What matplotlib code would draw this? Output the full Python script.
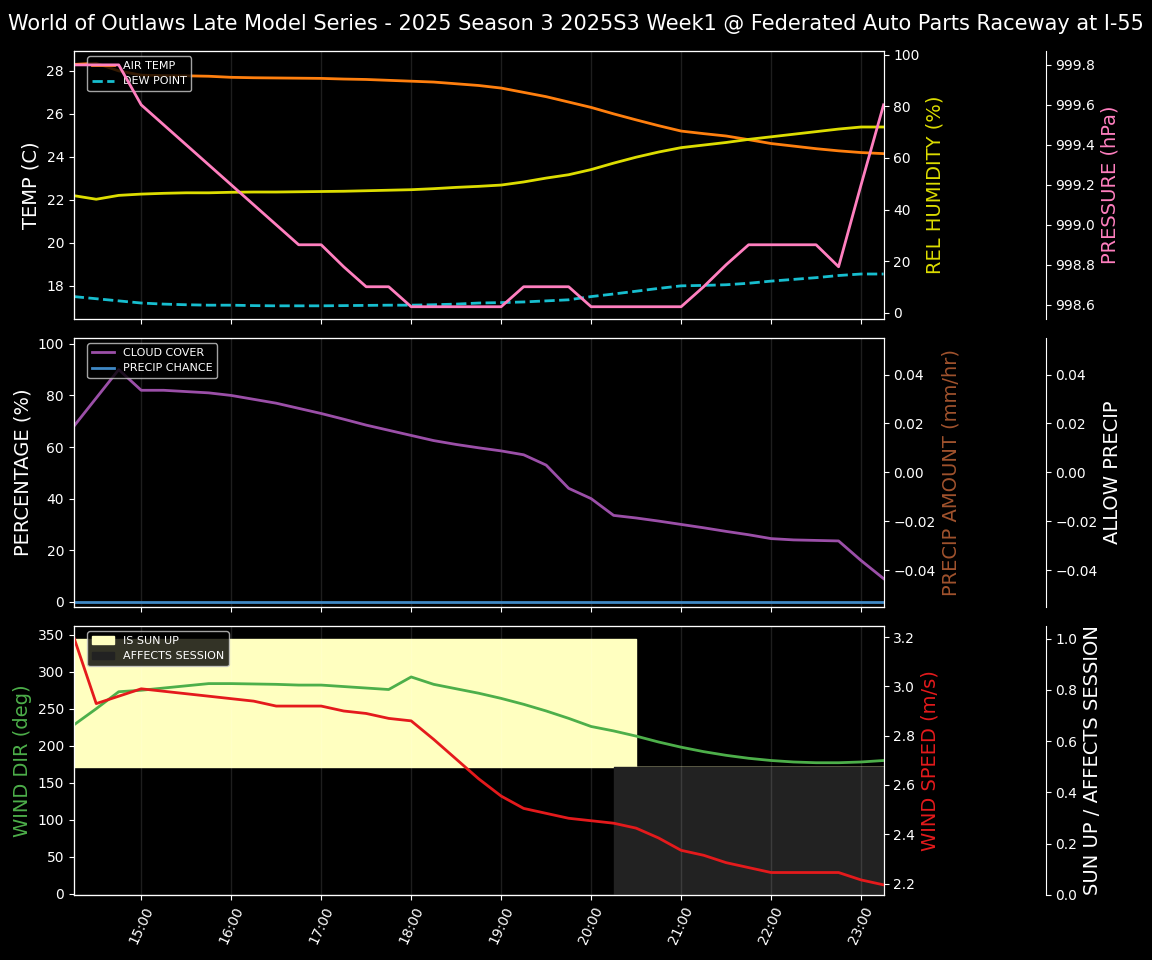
import matplotlib
matplotlib.use("Agg")
import matplotlib.pyplot as plt
import matplotlib.dates as mdates
import numpy as np
import pandas as pd

times = pd.date_range("2025-01-01 14:15", "2025-01-01 23:15", freq="15min")
air_temp = [28.3,28.35,28.0,27.8,27.78,27.77,27.75,27.7,27.68,27.67,27.66,27.65,27.62,27.6,27.56,27.52,27.48,27.4,27.32,27.2,27.0,26.8,26.55,26.3,26.0,25.72,25.45,25.2,25.08,24.97,24.8,24.62,24.5,24.38,24.28,24.2,24.15]
dew_point = [17.5,17.4,17.3,17.2,17.15,17.12,17.1,17.1,17.08,17.07,17.07,17.07,17.08,17.09,17.1,17.1,17.12,17.15,17.2,17.22,17.25,17.3,17.35,17.5,17.62,17.75,17.88,18.0,18.02,18.05,18.12,18.22,18.3,18.38,18.48,18.55,18.55]
humidity = [45.4,44,45.5,46,46.3,46.5,46.5,46.7,46.8,46.8,46.9,47,47.1,47.3,47.5,47.7,48.1,48.6,49,49.5,50.7,52.2,53.5,55.5,58,60.3,62.3,64,65,66,67.2,68.2,69.2,70.2,71.2,72,72]
pressure = [999.8,999.8,999.8,999.6,999.5,999.4,999.3,999.2,999.1,999.0,998.9,998.9,998.79,998.69,998.69,998.59,998.59,998.59,998.59,998.59,998.69,998.69,998.69,998.59,998.59,998.59,998.59,998.59,998.69,998.8,998.9,998.9,998.9,998.9,998.79,999.2,999.6]
cloud = [68,79,90,82,82,81.5,81,80,78.5,77,75,73,70.8,68.5,66.5,64.5,62.5,61,59.7,58.5,57,53,44,40,33.5,32.5,31.3,30,28.7,27.3,26,24.5,24,23.8,23.6,16,9]
precip_chance = [0]*37
precip_amount = [0]*37
wind_dir = [228,250,273,275,278,281,284,284,283.5,283,282,282,280,278,276,293,283,277,271,264,256,247,237,226,220,213,205,198,192,187,183,180,178,177,177,178,180]
wind_speed = [3.2,2.93,2.96,2.99,2.98,2.97,2.96,2.95,2.94,2.92,2.92,2.92,2.9,2.89,2.87,2.86,2.785,2.705,2.625,2.555,2.505,2.485,2.465,2.455,2.445,2.425,2.385,2.335,2.315,2.285,2.265,2.245,2.245,2.245,2.245,2.215,2.195]
sun_up = [1]*25 + [0]*12
affects = [0]*24 + [1]*13

plt.style.use("dark_background")
fig = plt.figure(figsize=(11.52, 9.6), dpi=100)
L, W = 0.064, 0.703
axs = [fig.add_axes([L, 0.668, W, 0.279]), fig.add_axes([L, 0.368, W, 0.280]), fig.add_axes([L, 0.068, W, 0.280])]
fig.suptitle("World of Outlaws Late Model Series - 2025 Season 3 2025S3 Week1 @ Federated Auto Parts Raceway at I-55", fontsize=15, y=0.985)

def third(ax):
    a = ax.twinx()
    a.spines["right"].set_position(("axes", 1.2))
    return a

for ax in axs:
    ax.set_xlim(times[0], times[-1])
    ax.xaxis.set_major_locator(mdates.HourLocator())
    ax.xaxis.set_major_formatter(mdates.DateFormatter("%H:%M"))
    ax.grid(axis="x", color="white", alpha=0.12, linewidth=1.0)
for ax in axs[:2]:
    ax.tick_params(labelbottom=False)
plt.setp(axs[2].get_xticklabels(), rotation=65)

ax = axs[0]
ax.plot(times, air_temp, color="#ff7f0e", lw=2, label="AIR TEMP")
ax.plot(times, dew_point, color="#17becf", lw=2, ls="--", label="DEW POINT")
ax.set_ylabel("TEMP (C)", fontsize=14)
ax.set_ylim(16.47, 28.93)
ax.legend(loc="upper left", fontsize=8, bbox_to_anchor=(0.01, 1.0))
a2 = ax.twinx()
a2.plot(times, humidity, color="#dddd00", lw=2)
a2.set_ylim(-2.3, 101.5); a2.set_ylabel("REL HUMIDITY (%)", color="#dddd00", fontsize=14)
a3 = third(ax)
a3.plot(times, pressure, color="#ff7fbf", lw=2)
a3.set_ylim(998.53, 999.87); a3.set_ylabel("PRESSURE (hPa)", color="#ff7fbf", fontsize=14)

ax = axs[1]
ax.plot(times, cloud, color="#9b4fa8", lw=2, label="CLOUD COVER")
ax.plot(times, precip_chance, color="#3f88c5", lw=2, label="PRECIP CHANCE")
ax.set_ylim(-1.9, 102.3); ax.set_ylabel("PERCENTAGE (%)", fontsize=14)
ax.legend(loc="upper left", fontsize=8, bbox_to_anchor=(0.01, 1.0))
b2 = ax.twinx()
b2.plot(times, precip_amount, color="#a0522d", lw=0)
b2.set_ylim(-0.055, 0.055); b2.set_ylabel("PRECIP AMOUNT (mm/hr)", color="#a0522d", fontsize=14)
b3 = third(ax)
b3.set_ylim(-0.055, 0.055); b3.set_ylabel("ALLOW PRECIP", fontsize=14)

ax = axs[2]
c3 = third(ax)
c3.set_ylim(0, 1.05); c3.set_ylabel("SUN UP / AFFECTS SESSION", fontsize=14)
c3.fill_between(times, 0.5, np.where(np.array(sun_up) > 0, 1.0, 0.5), step="post", color="#ffffc0", label="IS SUN UP")
c3.fill_between(times, 0, np.array(affects) * 0.5, step="post", color="#222222", label="AFFECTS SESSION")
c3.set_zorder(0)
ax.set_zorder(1); ax.patch.set_visible(False)
c2 = ax.twinx(); c2.set_zorder(2)
ax.plot(times, wind_dir, color="#4daf4a", lw=2)
ax.set_ylim(-1.5, 362); ax.set_ylabel("WIND DIR (deg)", color="#4daf4a", fontsize=14)
c2.plot(times, wind_speed, color="#e41a1c", lw=2)
c2.set_ylim(2.155, 3.245); c2.set_ylabel("WIND SPEED (m/s)", color="#e41a1c", fontsize=14)
c2.legend(*c3.get_legend_handles_labels(), loc="upper left", fontsize=8, bbox_to_anchor=(0.01, 1.0))

fig.savefig("out.png", dpi=100, facecolor="black")
